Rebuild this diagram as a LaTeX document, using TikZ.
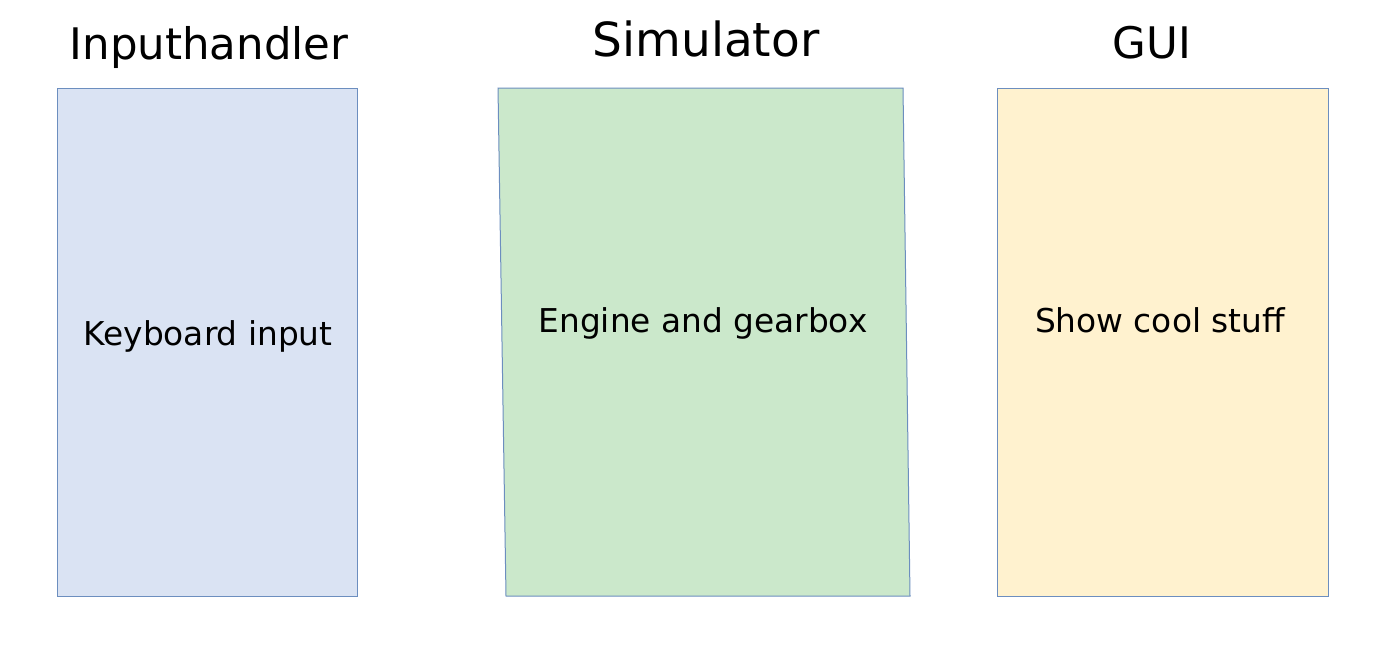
\documentclass[tikz,border=0pt]{standalone}
\usepackage{fontspec}
\setmainfont{DejaVu Sans}
\usetikzlibrary{positioning}
\definecolor{mblue}{HTML}{DAE3F3}
\definecolor{mgreen}{HTML}{CBE8CB}
\definecolor{myellow}{HTML}{FFF2CF}
\definecolor{medge}{HTML}{6C8EBF}
\tikzset{block/.style = {draw = medge, line width = 1, inner sep = 0}}
\tikzset{title/.style = {anchor = base, font = \fontsize{43.5}{52}\selectfont}}
\tikzset{label/.style = {anchor = base, font = \fontsize{32.8}{39}\selectfont}}

\begin{document}
\begin{tikzpicture}[x=1pt, y=-1pt]
    \useasboundingbox (0, 0) rectangle (1376, 651);

    \node [block, fill=mblue, minimum width=300, minimum height=508, anchor=north west] (input) at (57, 88) {};
    \node [block, fill=myellow, minimum width=331, minimum height=508, anchor=north west] (gui) at (997, 88) {};

    \coordinate (s1) at (498, 88);
    \coordinate (s2) at (903, 88);
    \coordinate (s3) at (910, 596);
    \coordinate (s4) at (506, 596);
    \draw [draw=medge, line width=1, fill=mgreen] (s1) -- (s2) -- (s3) -- (s4) -- cycle;

    \node [title] (inputtitle) at (209, 59) {Inputhandler};
    \node [title, font=\fontsize{47}{56}\selectfont] (simtitle) at (706, 56) {Simulator};
    \node [title] (guititle) at (1152, 58) {GUI};

    \node [label] (inputtext) at (208, 345) {Keyboard input};
    \node [label] (simtext) at (703, 332) {Engine and gearbox};
    \node [label] (guitext) at (1160, 332) {Show cool stuff};
  \end{tikzpicture}
\end{document}
